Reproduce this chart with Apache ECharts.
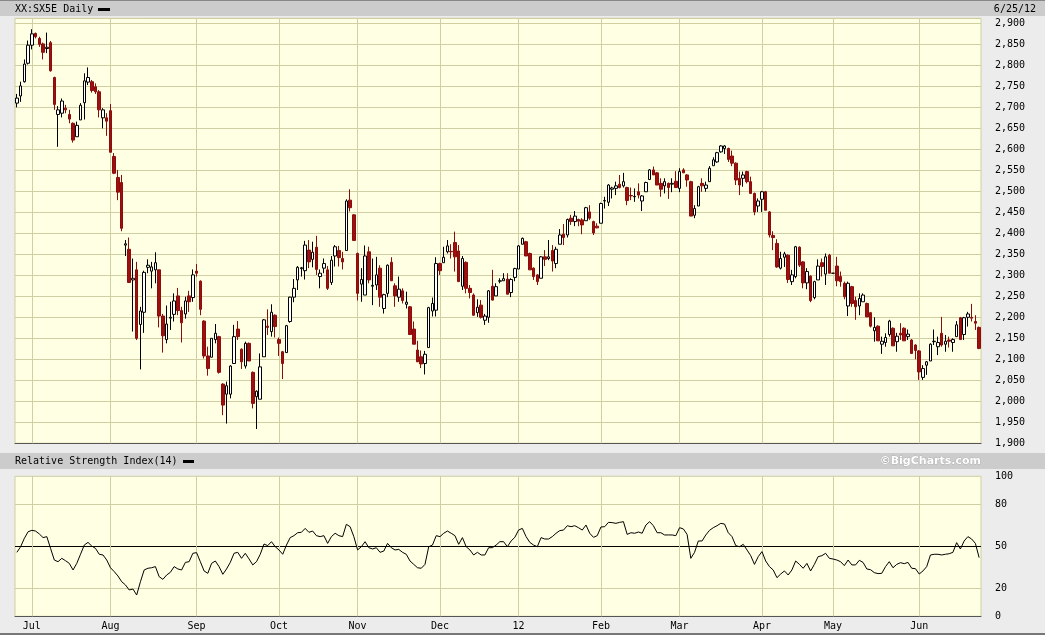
<!DOCTYPE html>
<html><head><meta charset="utf-8">
<script src="https://cdn.jsdelivr.net/npm/echarts@6/dist/echarts.min.js"></script>
<style>html,body{margin:0;padding:0;background:#ECECEC;}#c{width:1045px;height:635px;}</style>
</head><body><div id="c"></div>
<script>
const dates = [
'2011-06-27','2011-06-28','2011-06-29','2011-06-30',
'2011-07-01','2011-07-04','2011-07-05','2011-07-06','2011-07-07','2011-07-08','2011-07-11','2011-07-12','2011-07-13','2011-07-14','2011-07-15','2011-07-18','2011-07-19','2011-07-20','2011-07-21','2011-07-22','2011-07-25','2011-07-26','2011-07-27','2011-07-28','2011-07-29',
'2011-08-01','2011-08-02','2011-08-03','2011-08-04','2011-08-05','2011-08-08','2011-08-09','2011-08-10','2011-08-11','2011-08-12','2011-08-15','2011-08-16','2011-08-17','2011-08-18','2011-08-19','2011-08-22','2011-08-23','2011-08-24','2011-08-25','2011-08-26','2011-08-29','2011-08-30','2011-08-31',
'2011-09-01','2011-09-02','2011-09-05','2011-09-06','2011-09-07','2011-09-08','2011-09-09','2011-09-12','2011-09-13','2011-09-14','2011-09-15','2011-09-16','2011-09-19','2011-09-20','2011-09-21','2011-09-22','2011-09-23','2011-09-26','2011-09-27','2011-09-28','2011-09-29','2011-09-30',
'2011-10-03','2011-10-04','2011-10-05','2011-10-06','2011-10-07','2011-10-10','2011-10-11','2011-10-12','2011-10-13','2011-10-14','2011-10-17','2011-10-18','2011-10-19','2011-10-20','2011-10-21','2011-10-24','2011-10-25','2011-10-26','2011-10-27','2011-10-28','2011-10-31',
'2011-11-01','2011-11-02','2011-11-03','2011-11-04','2011-11-07','2011-11-08','2011-11-09','2011-11-10','2011-11-11','2011-11-14','2011-11-15','2011-11-16','2011-11-17','2011-11-18','2011-11-21','2011-11-22','2011-11-23','2011-11-24','2011-11-25','2011-11-28','2011-11-29','2011-11-30',
'2011-12-01','2011-12-02','2011-12-05','2011-12-06','2011-12-07','2011-12-08','2011-12-09','2011-12-12','2011-12-13','2011-12-14','2011-12-15','2011-12-16','2011-12-19','2011-12-20','2011-12-21','2011-12-22','2011-12-23','2011-12-27','2011-12-28','2011-12-29','2011-12-30',
'2012-01-02','2012-01-03','2012-01-04','2012-01-05','2012-01-06','2012-01-09','2012-01-10','2012-01-11','2012-01-12','2012-01-13','2012-01-16','2012-01-17','2012-01-18','2012-01-19','2012-01-20','2012-01-23','2012-01-24','2012-01-25','2012-01-26','2012-01-27','2012-01-30','2012-01-31',
'2012-02-01','2012-02-02','2012-02-03','2012-02-06','2012-02-07','2012-02-08','2012-02-09','2012-02-10','2012-02-13','2012-02-14','2012-02-15','2012-02-16','2012-02-17','2012-02-20','2012-02-21','2012-02-22','2012-02-23','2012-02-24','2012-02-27','2012-02-28','2012-02-29',
'2012-03-01','2012-03-02','2012-03-05','2012-03-06','2012-03-07','2012-03-08','2012-03-09','2012-03-12','2012-03-13','2012-03-14','2012-03-15','2012-03-16','2012-03-19','2012-03-20','2012-03-21','2012-03-22','2012-03-23','2012-03-26','2012-03-27','2012-03-28','2012-03-29','2012-03-30',
'2012-04-02','2012-04-03','2012-04-04','2012-04-05','2012-04-10','2012-04-11','2012-04-12','2012-04-13','2012-04-16','2012-04-17','2012-04-18','2012-04-19','2012-04-20','2012-04-23','2012-04-24','2012-04-25','2012-04-26','2012-04-27','2012-04-30',
'2012-05-01','2012-05-02','2012-05-03','2012-05-04','2012-05-07','2012-05-08','2012-05-09','2012-05-10','2012-05-11','2012-05-14','2012-05-15','2012-05-16','2012-05-17','2012-05-18','2012-05-21','2012-05-22','2012-05-23','2012-05-24','2012-05-25','2012-05-28','2012-05-29','2012-05-30','2012-05-31',
'2012-06-01','2012-06-04','2012-06-05','2012-06-06','2012-06-07','2012-06-08','2012-06-11','2012-06-12','2012-06-13','2012-06-14','2012-06-15','2012-06-18','2012-06-19','2012-06-20','2012-06-21','2012-06-22','2012-06-25'
];
const open = [
2710,2727,2761,2805,2848,2876,2864,2851,2840,2854,
2771,2683,2686,2698,2683,2662,2630,2670,2711,2760,
2761,2749,2737,2675,2675,2692,2583,2533,2521,2372,
2362,2289,2313,2183,2212,2319,2310,2313,2313,2203,
2147,2198,2207,2251,2216,2208,2251,2247,2310,2286,
2191,2108,2105,2147,2154,2041,2017,2017,2090,2172,
2124,2084,2138,2069,2011,2005,2106,2179,2166,2205,
2147,2118,2116,2190,2248,2289,2316,2311,2360,2338,
2367,2297,2317,2313,2283,2346,2359,2340,2359,2479,
2444,2352,2279,2253,2356,2274,2277,2317,2221,2257,
2331,2275,2248,2263,2231,2225,2172,2122,2106,2090,
2128,2215,2217,2328,2330,2356,2357,2378,2358,2274,
2331,2269,2253,2211,2229,2193,2200,2274,2251,2286,
2287,2291,2259,2295,2315,2374,2380,2352,2317,2301,
2293,2344,2340,2359,2328,2374,2398,2396,2436,2428,
2433,2432,2430,2451,2428,2417,2424,2477,2474,2505,
2507,2517,2513,2509,2490,2487,2499,2477,2499,2528,
2551,2544,2519,2513,2519,2517,2524,2507,2551,2539,
2523,2443,2465,2519,2507,2523,2561,2570,2594,2602,
2602,2584,2567,2531,2531,2547,2523,2495,2465,2481,
2499,2451,2395,2376,2317,2343,2348,2285,2297,2367,
2332,2282,2298,2247,2289,2330,2303,2348,2305,2322,
2297,2281,2227,2273,2240,2227,2237,2233,2211,2168,
2179,2136,2140,2159,2174,2142,2162,2174,2154,2146,
2134,2120,2057,2086,2096,2142,2130,2162,2136,2146,
2140,2154,2199,2159,2200,2200,2190,2176
];
const close = [
2722,2751,2803,2848,2875,2868,2850,2831,2843,2787,
2707,2694,2715,2694,2672,2622,2657,2705,2763,2771,
2740,2737,2694,2694,2667,2593,2543,2498,2412,2375,
2283,2293,2150,2215,2307,2324,2320,2330,2203,2156,
2184,2200,2239,2216,2187,2239,2237,2301,2305,2219,
2108,2078,2150,2162,2069,1991,2037,2084,2154,2154,
2094,2138,2096,1995,2024,2082,2194,2176,2212,2178,
2138,2090,2180,2248,2269,2319,2318,2372,2332,2355,
2314,2305,2328,2269,2336,2368,2342,2332,2477,2461,
2383,2257,2290,2346,2289,2276,2301,2248,2254,2324,
2287,2251,2267,2240,2236,2159,2136,2094,2089,2112,
2223,2233,2328,2311,2343,2370,2356,2344,2285,2340,
2269,2259,2205,2224,2200,2203,2263,2241,2273,2287,
2292,2255,2290,2316,2370,2388,2346,2313,2297,2285,
2344,2338,2344,2334,2362,2396,2390,2433,2428,2441,
2429,2420,2461,2436,2401,2413,2471,2478,2515,2508,
2513,2509,2523,2478,2489,2488,2491,2489,2521,2551,
2539,2515,2505,2523,2509,2519,2509,2547,2544,2527,
2441,2459,2511,2513,2515,2555,2575,2592,2608,2608,
2576,2567,2527,2515,2539,2523,2495,2451,2477,2499,
2455,2396,2390,2320,2340,2351,2290,2301,2368,2324,
2282,2309,2240,2285,2322,2321,2344,2305,2305,2287,
2285,2249,2281,2233,2225,2245,2253,2201,2179,2176,
2144,2143,2152,2191,2132,2155,2158,2144,2160,2114,
2121,2070,2078,2094,2136,2143,2140,2134,2143,2143,
2147,2182,2147,2199,2208,2198,2186,2126
];
const low = [
2700,2713,2759,2802,2838,2864,2844,2814,2829,2785,
2694,2606,2676,2686,2662,2616,2630,2670,2671,2753,
2735,2732,2676,2650,2632,2593,2541,2479,2405,2346,
2283,2166,2146,2076,2163,2305,2269,2281,2176,2116,
2138,2170,2190,2205,2140,2197,2213,2237,2297,2205,
2102,2061,2105,2138,2066,1967,1947,2007,2090,2146,
2077,2078,2096,1983,1934,2005,2106,2158,2154,2152,
2108,2053,2116,2187,2236,2265,2297,2290,2317,2319,
2301,2269,2305,2265,2277,2321,2321,2314,2359,2452,
2383,2240,2237,2253,2281,2229,2265,2225,2209,2248,
2287,2225,2237,2233,2221,2159,2136,2094,2079,2064,
2128,2202,2202,2301,2330,2352,2340,2309,2285,2265,
2257,2245,2204,2201,2197,2182,2187,2240,2251,2281,
2287,2255,2248,2286,2315,2374,2346,2313,2289,2277,
2293,2322,2336,2309,2317,2374,2372,2390,2420,2417,
2417,2398,2430,2432,2396,2412,2424,2459,2465,2483,
2491,2507,2509,2467,2479,2475,2483,2453,2499,2527,
2539,2515,2487,2495,2482,2498,2509,2498,2544,2511,
2441,2436,2465,2499,2499,2523,2561,2568,2592,2589,
2570,2560,2515,2491,2511,2519,2495,2443,2451,2451,
2455,2390,2360,2318,2314,2320,2282,2277,2293,2320,
2269,2267,2236,2243,2289,2297,2277,2305,2305,2274,
2273,2243,2203,2225,2194,2205,2237,2201,2176,2142,
2144,2113,2130,2154,2132,2118,2146,2144,2146,2113,
2100,2051,2051,2063,2096,2134,2110,2130,2118,2128,
2118,2154,2147,2146,2178,2190,2170,2124
];
const high = [
2732,2761,2814,2859,2886,2878,2868,2854,2878,2858,
2773,2703,2721,2706,2694,2664,2666,2710,2781,2795,
2765,2757,2741,2698,2686,2708,2591,2551,2539,2384,
2390,2340,2332,2225,2311,2338,2332,2355,2313,2208,
2228,2237,2257,2270,2225,2249,2263,2314,2327,2288,
2193,2130,2150,2184,2156,2043,2047,2086,2182,2191,
2126,2142,2140,2071,2026,2114,2196,2219,2231,2207,
2152,2120,2182,2249,2291,2322,2320,2382,2384,2380,
2394,2314,2340,2322,2346,2372,2370,2356,2481,2505,
2446,2354,2317,2371,2368,2340,2344,2324,2256,2326,
2343,2281,2297,2269,2261,2227,2190,2144,2121,2120,
2225,2247,2343,2330,2368,2384,2374,2404,2372,2346,
2333,2277,2257,2243,2241,2208,2265,2313,2281,2293,
2305,2305,2293,2318,2372,2390,2382,2354,2319,2303,
2346,2360,2384,2372,2368,2410,2422,2435,2444,2453,
2435,2436,2463,2467,2430,2424,2473,2487,2517,2511,
2523,2539,2544,2511,2509,2507,2519,2491,2523,2553,
2559,2546,2531,2531,2521,2531,2548,2555,2555,2541,
2525,2467,2513,2531,2523,2560,2581,2594,2610,2610,
2604,2597,2569,2547,2547,2549,2535,2497,2483,2501,
2501,2453,2405,2386,2356,2356,2350,2313,2370,2369,
2334,2317,2300,2287,2338,2340,2352,2351,2305,2344,
2309,2285,2285,2275,2249,2257,2257,2235,2213,2200,
2181,2154,2162,2194,2176,2163,2186,2176,2171,2148,
2136,2122,2086,2096,2138,2171,2154,2201,2158,2154,
2150,2191,2201,2201,2213,2232,2205,2178
];
const rsi = [
45.7,49.7,55.7,60.4,61.4,60.9,58.8,56.2,56.9,48.5,
40.2,39,41.4,39.7,37.8,33.1,37.8,44.3,50.9,52.8,
50.2,48.5,44.3,43.8,40.2,34.7,31.9,28.8,24.7,22.4,
18.8,19.5,15.2,24.7,33.1,34.3,34.7,35.5,28.3,26.4,
29.5,31.4,35.5,33.8,33.1,38.5,39,45,45.5,39,
32.4,30.7,37.8,39.5,35.5,30,33.8,38.5,45,45.7,
41.4,45,41,36.7,39,44.3,51.6,50.5,53.3,49.7,
47.4,44.3,50.9,56.2,57.6,59.7,60,62.8,60,60.9,
57.6,56.9,57.6,52.1,56.9,59.3,57.6,56.9,65.7,64,
56.9,47.4,49.7,53.3,49,48.1,49,45.7,46.6,52.1,
49,47.4,47.8,45.7,44.3,39.5,37.1,34.7,34.3,37.1,
49.7,50.9,57.6,56.9,59.3,60.9,59.3,57.6,51.4,56.2,
49.7,47.4,43.8,45.7,43.8,43.8,49,49,50.9,53.3,
53.3,49.7,53.8,56.4,61.6,62.8,56.9,52.8,50.9,49.7,
56.2,55.2,55.2,56.9,59.3,61.2,61.6,64.7,64,64.7,
63.3,61.6,65.2,59.3,56.4,57.6,63.8,64,67.1,66.9,
66.4,67.1,67.6,58.5,59.7,59.3,60.2,59.3,65.2,67.6,
64.7,59.7,59.7,58.1,58.1,58.1,57.6,63.3,62.4,58.5,
41.4,45.7,53.8,53.8,58.1,61.4,63.3,64.7,66.4,65.9,
59.7,56.9,50.5,49.7,51.4,47.4,43.3,37.1,42.6,46.2,
39.5,35.5,33.1,27.6,30.2,32.4,29.5,33.1,39.5,37.1,
34.3,37.8,32.4,37.1,42.6,43.3,45,41.4,40.9,40.2,
39,36.2,40.2,36.7,36.7,40,38.5,33.8,33.3,31.2,
30.5,30.7,35.5,39,34.7,37.1,38.3,37.6,38.5,34.3,
34,30.2,32.4,35.5,43.8,44.3,44.3,43.8,44.3,44.7,
45.7,52.6,48.1,53.8,56.9,55.2,52.1,41.9
];
const monthLabels = ['12','Feb','Mar','Apr','May','Jun','Jul','Aug','Sep','Oct','Nov','Dec'];
const priceTicks = {min:1900, max:2912, step:50};
const rsiLabels = [0,20,50,80,100];
const rsiLines = [20,50,80];

const GRID = '#CFCFA3';
const BG = '#FFFFE3';
const FONT = '"DejaVu Sans Mono", monospace';

function monthStart(i){
  if (i <= 0) return false;
  return dates[i].slice(0,7) !== dates[i-1].slice(0,7);
}
function monthLabel(v){
  const m = parseInt(v.slice(5,7),10) - 1;
  return monthLabels[m];
}
const monthStarts = dates.filter((d,i)=>monthStart(i));
const vLines = monthStarts.map(d=>({xAxis:d}));
const candles = dates.map((d,i)=>[open[i], close[i], Math.min(low[i],open[i],close[i]), Math.max(high[i],open[i],close[i])]);

const chart = echarts.init(document.getElementById('c'), null, {renderer:'canvas'});
chart.setOption({
  animation:false,
  backgroundColor:'#ECECEC',
  grid:[
    {left:15, right:64, top:18.3, height:425, show:true, backgroundColor:BG, borderColor:GRID, borderWidth:1},
    {left:15, right:64, top:476.3, height:140, show:true, backgroundColor:BG, borderColor:GRID, borderWidth:1}
  ],
  xAxis:[
    {type:'category', gridIndex:0, data:dates, boundaryGap:true,
     axisLine:{show:true, lineStyle:{color:'#555', width:1}}, axisTick:{show:false}, axisLabel:{show:false},
     splitLine:{show:false}},
    {type:'category', gridIndex:1, data:dates, boundaryGap:true,
     axisLine:{show:true, lineStyle:{color:'#555', width:1}}, axisTick:{show:false},
     axisLabel:{show:true, interval:(i)=>monthStart(i), formatter:(v)=>monthLabel(v), color:'#000', fontFamily:FONT, fontSize:10, margin:5},
     splitLine:{show:false}}
  ],
  yAxis:[
    {type:'value', gridIndex:0, position:'right', min:priceTicks.min, max:priceTicks.max, interval:priceTicks.step,
     axisLine:{show:false}, axisTick:{show:false},
     axisLabel:{show:true, showMaxLabel:false, align:'left', margin:14, color:'#000', fontFamily:FONT, fontSize:10,
       formatter:(v)=> (v % 50 === 0 ? v.toLocaleString('en-US') : '')},
     splitLine:{show:true, lineStyle:{color:GRID, width:1}}},
    {type:'value', gridIndex:1, position:'right', min:0, max:100, interval:10,
     axisLine:{show:false}, axisTick:{show:false},
     axisLabel:{show:true, align:'left', margin:14, color:'#000', fontFamily:FONT, fontSize:10,
       formatter:(v)=> (rsiLabels.indexOf(v) >= 0 ? String(v) : '')},
     splitLine:{show:false}}
  ],
  series:[
    {type:'candlestick', xAxisIndex:0, yAxisIndex:0, data:candles, barWidth:3, z:3,
     itemStyle:{color:'#FFFFFF', color0:'#9E1010', borderColor:'#000000', borderColor0:'#8A0C0C', borderWidth:1},
     markLine:{silent:true, symbol:'none', z:1, label:{show:false}, animation:false,
       lineStyle:{color:GRID, width:1, type:'solid'}, data:vLines}},
    {type:'line', xAxisIndex:1, yAxisIndex:1, data:rsi, symbol:'none', smooth:false, z:3,
     lineStyle:{color:'#000', width:1},
     markLine:{silent:true, symbol:'none', z:1, label:{show:false}, animation:false,
       data: rsiLines.map(v=>({yAxis:v, lineStyle:{color: v===50 ? '#000' : GRID, width:1, type:'solid'}}))
             .concat(vLines.map(o=>({xAxis:o.xAxis, lineStyle:{color:GRID, width:1, type:'solid'}})))}}
  ],
  graphic:[
    {type:'rect', shape:{x:0,y:0,width:1045,height:16}, style:{fill:'#CCCCCC'}, z:-1},
    {type:'rect', shape:{x:0,y:0,width:1045,height:1}, style:{fill:'#888888'}, z:-1},
    {type:'rect', shape:{x:0,y:453,width:1045,height:16}, style:{fill:'#CCCCCC'}, z:-1},
    {type:'rect', shape:{x:0,y:633,width:1045,height:2}, style:{fill:'#777777'}, z:-1},
    {type:'text', style:{text:'XX:SX5E Daily', x:15, y:9, font:'10px '+FONT, fill:'#000', textVerticalAlign:'middle', verticalAlign:'middle'}},
    {type:'rect', shape:{x:98,y:8,width:12,height:3}, style:{fill:'#000'}},
    {type:'text', style:{text:'6/25/12', x:1036, y:9, font:'10px '+FONT, fill:'#000', textAlign:'right', align:'right', textVerticalAlign:'middle', verticalAlign:'middle'}},
    {type:'text', style:{text:'Relative Strength Index(14)', x:15, y:461, font:'10px '+FONT, fill:'#000', textVerticalAlign:'middle', verticalAlign:'middle'}},
    {type:'rect', shape:{x:183,y:460,width:11,height:3}, style:{fill:'#000'}},
    {type:'text', style:{text:'©BigCharts.com', x:981, y:461, font:'bold 11px "DejaVu Sans", sans-serif', fill:'#FFFFFF', stroke:'#9A9A9A', lineWidth:0.5, textAlign:'right', align:'right', textVerticalAlign:'middle', verticalAlign:'middle'}}
  ]
});
</script></body></html>
